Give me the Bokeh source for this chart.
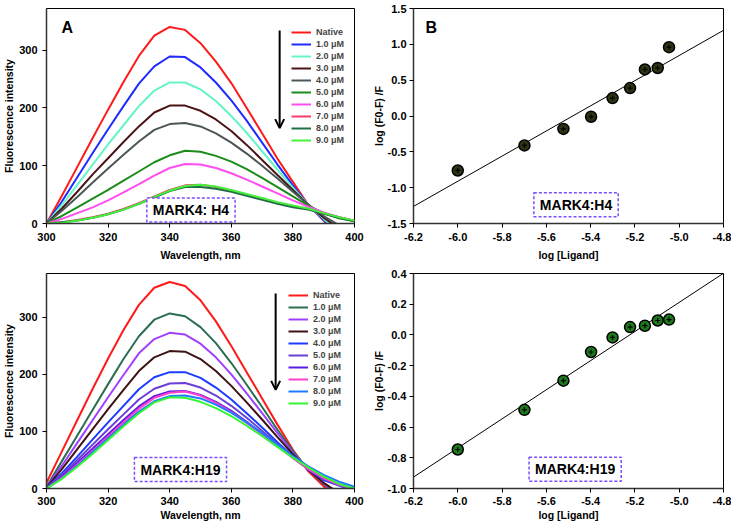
import numpy as np
from bokeh.plotting import figure
from bokeh.models import (Legend, LegendItem, Label, Arrow, OpenHead,
                          FixedTicker, PrintfTickFormatter, Range1d)
from bokeh.layouts import column, row
from bokeh.embed import file_html
from bokeh.resources import INLINE

# ---------------- data ----------------
wavelength = [300, 305, 310, 315, 320, 325, 330, 335, 340, 345, 350,
              355, 360, 365, 370, 375, 380, 385, 390, 395, 400]
series_labels = ["Native", "1.0 μM", "2.0 μM", "3.0 μM", "4.0 μM", "5.0 μM",
                 "6.0 μM", "7.0 μM", "8.0 μM", "9.0 μM"]

# MARK4:H4 emission spectra
h4_native = [0, 48, 98, 148, 197, 245, 290, 325, 340, 335, 312, 280, 243, 200, 156, 112, 72, 32, 5, -25, -50]
h4_c1 = [0, 38, 80, 122, 163, 203, 242, 272, 289, 288, 270, 244, 213, 178, 140, 102, 66, 32, 6, -20, -45]
h4_c2 = [0, 32, 67, 102, 137, 170, 203, 230, 244, 244, 232, 212, 186, 157, 125, 93, 62, 32, 8, -15, -40]
h4_c3 = [0, 26, 55, 85, 113, 141, 168, 192, 204, 204, 195, 180, 160, 136, 110, 84, 58, 32, 10, -8, -30]
h4_c4 = [0, 22, 46, 71, 95, 119, 142, 162, 172, 174, 168, 156, 140, 121, 100, 78, 55, 33, 13, -3, -20]
h4_c5 = [0, 13, 28, 43, 58, 74, 90, 106, 118, 126, 124, 117, 107, 94, 79, 63, 47, 31, 18, 9, 4]
h4_c6 = [0, 8, 18, 28, 40, 54, 68, 83, 96, 103, 102, 96, 87, 76, 64, 52, 40, 29, 19, 11, 5]
h4_c7 = [0, 2, 6, 11, 17, 25, 35, 47, 58, 66, 67, 63, 57, 50, 43, 36, 30, 25, 18, 11, 5]
h4_c8 = [0, 2, 5, 10, 16, 24, 34, 45, 56, 63, 63, 60, 55, 48, 41, 34, 28, 24, 17, 10, 4]
h4_c9 = [0, 1, 5, 10, 16, 24, 34, 46, 57, 65, 67, 64, 58, 51, 44, 37, 31, 26, 18, 11, 5]

# MARK4:H19 emission spectra
h19_native = [10, 65, 120, 175, 228, 278, 322, 352, 362, 355, 330, 293, 250, 204, 158, 112, 68, 30, 4, -25, -50]
h19_c1 = [3, 48, 93, 138, 183, 227, 267, 296, 307, 302, 283, 255, 220, 182, 143, 103, 66, 33, 8, -15, -40]
h19_c2 = [2, 40, 80, 120, 160, 199, 237, 262, 273, 270, 254, 230, 200, 167, 132, 97, 63, 33, 9, -12, -35]
h19_c3 = [2, 34, 69, 104, 139, 173, 206, 230, 241, 240, 227, 206, 180, 151, 121, 90, 60, 33, 10, -8, -30]
h19_c4 = [1, 27, 56, 86, 116, 145, 174, 195, 204, 204, 194, 177, 156, 132, 107, 81, 56, 33, 15, 5, -5]
h19_c5 = [1, 24, 50, 77, 104, 130, 156, 175, 184, 185, 177, 163, 145, 124, 101, 78, 55, 34, 17, 6, -3]
h19_c6 = [0, 21, 45, 70, 95, 120, 144, 162, 170, 171, 164, 152, 136, 117, 96, 75, 54, 35, 19, 8, 0]
h19_c7 = [0, 19, 42, 66, 91, 116, 140, 159, 168, 170, 163, 150, 134, 115, 95, 74, 53, 34, 18, 7, -1]
h19_c8 = [0, 18, 40, 64, 88, 112, 135, 153, 162, 163, 158, 147, 133, 116, 97, 77, 57, 39, 24, 12, 3]
h19_c9 = [0, 17, 38, 61, 85, 109, 132, 151, 160, 159, 152, 141, 127, 110, 92, 73, 54, 37, 21, 8, 0]

h4_colors = ["#ff1a1a", "#1f2bff", "#66f5c8", "#4a1416", "#4d5656", "#1a8c1a",
             "#ff4df0", "#ff3b6b", "#1f6e45", "#45f03c"]
h19_colors = ["#ff1a1a", "#2a6e50", "#a040ff", "#3f1214", "#1c3cff", "#6a3fd8",
              "#5a1ce0", "#ff3fcc", "#1c7cff", "#35f535"]

# double-log plots
log_ligand = [-6.0, -5.699, -5.523, -5.398, -5.301, -5.222, -5.155, -5.097, -5.046]
h4_logF = [-0.76, -0.41, -0.18, -0.01, 0.25, 0.39, 0.65, 0.67, 0.96]
h19_logF = [-0.746, -0.488, -0.298, -0.111, -0.016, 0.051, 0.06, 0.094, 0.10]

wl_ticks = [300, 320, 340, 360, 380, 400]
int_ticks = [0, 100, 200, 300]
lig_ticks = [-6.2, -6.0, -5.8, -5.6, -5.4, -5.2, -5.0, -4.8]
h4_log_ticks = [-1.5, -1.0, -0.5, 0.0, 0.5, 1.0, 1.5]
h19_log_ticks = [-1.0, -0.8, -0.6, -0.4, -0.2, 0.0, 0.2, 0.4]

FONT = "Liberation Sans"


def style(p, xlabel, ylabel, xticks, yticks, x_std, y_std, fmt=False):
    p.outline_line_color = "black"
    p.outline_line_width = 1
    p.xgrid.visible = False
    p.ygrid.visible = False
    p.background_fill_color = "white"
    p.border_fill_color = "white"
    p.xaxis.axis_label = xlabel
    p.yaxis.axis_label = ylabel
    p.xaxis.ticker = FixedTicker(ticks=xticks)
    p.yaxis.ticker = FixedTicker(ticks=yticks)
    if fmt:
        p.xaxis.formatter = PrintfTickFormatter(format="%.1f")
        p.yaxis.formatter = PrintfTickFormatter(format="%.1f")
    for ax, (ls, als) in ((p.xaxis[0], x_std), (p.yaxis[0], y_std)):
        ax.axis_line_color = "#333333"
        ax.axis_line_width = 1.5
        ax.major_tick_line_color = "black"
        ax.major_tick_out = 4
        ax.major_tick_in = 0
        ax.minor_tick_out = 0
        ax.minor_tick_in = 0
        ax.major_label_text_font = FONT
        ax.major_label_text_font_style = "bold"
        ax.major_label_text_font_size = "11px"
        ax.major_label_text_color = "black"
        ax.major_label_standoff = ls
        ax.axis_label_text_font = FONT
        ax.axis_label_text_font_style = "bold"
        ax.axis_label_text_font_size = "10.5px"
        ax.axis_label_text_color = "black"
        ax.axis_label_standoff = als


def tag(p, x, y, text):
    p.add_layout(Label(x=x, y=y, text=text, text_align="center",
                       text_baseline="middle", text_font=FONT,
                       text_font_style="bold", text_font_size="14px",
                       text_color="black",
                       border_line_color="#7a4dff", border_line_dash="3 2",
                       border_line_width=1.5,
                       background_fill_color="white", padding=(6, 4)))


def spectra(series, colors, ymax, width, height, borders, x_std, tagpos,
            tagtext, arrow_pos, legend_loc):
    p = figure(width=width, height=height, output_backend="svg",
               toolbar_location=None, x_range=Range1d(300, 400),
               y_range=Range1d(0, ymax),
               min_border_left=borders[0], min_border_right=borders[1],
               min_border_top=borders[2], min_border_bottom=borders[3])
    items = []
    for ys, col, lab in zip(series, colors, series_labels):
        r = p.line(wavelength, ys, line_color=col, line_width=2)
        items.append(LegendItem(label=lab, renderers=[r]))
    style(p, "Wavelength, nm", "Fluorescence intensity", wl_ticks, int_ticks,
          x_std, (5, 1))
    leg = Legend(items=items, location=legend_loc, border_line_color=None,
                 background_fill_alpha=0, padding=0, margin=0, spacing=2,
                 label_height=10, glyph_height=10, glyph_width=20,
                 label_standoff=5, label_text_font=FONT,
                 label_text_font_style="bold", label_text_font_size="9px")
    p.add_layout(leg)
    ax, ys0, ys1 = arrow_pos
    p.add_layout(Arrow(end=OpenHead(size=9, line_width=2, line_color="black"),
                       x_start=ax, y_start=ys0, x_end=ax, y_end=ys1,
                       line_width=2, line_color="black"))
    tag(p, tagpos[0], tagpos[1], tagtext)
    return p


def loglog(ys, fill, ylo, yhi, yticks, width, height, borders, x_std,
           tagpos, tagtext):
    p = figure(width=width, height=height, output_backend="svg",
               toolbar_location=None, x_range=Range1d(-6.2, -4.8),
               y_range=Range1d(ylo, yhi),
               min_border_left=borders[0], min_border_right=borders[1],
               min_border_top=borders[2], min_border_bottom=borders[3])
    slope, icpt = np.polyfit(log_ligand, ys, 1)
    xs_fit = [-6.2, -4.8]
    p.line(xs_fit, [slope * x + icpt for x in xs_fit], line_color="black",
           line_width=1)
    p.scatter(log_ligand, ys, size=11, fill_color=fill, line_color="black",
              line_width=1.5)
    p.scatter(log_ligand, ys, marker="cross", size=5, line_color="black",
              line_width=1.2)
    style(p, "log [Ligand]", "log (F0-F) /F", lig_ticks, yticks, x_std,
          (3, 0), fmt=True)
    tag(p, tagpos[0], tagpos[1], tagtext)
    return p


pA1 = spectra([h4_native, h4_c1, h4_c2, h4_c3, h4_c4, h4_c5, h4_c6, h4_c7, h4_c8, h4_c9],
              h4_colors, 372, 368, 263, (45, 14, 8, 39), (5, 5), (346.9, 23.2),
              "MARK4: H4", (375.7, 334, 165), (245, 78))
pA1.add_layout(Label(x=304.9, y=353, text="A", text_font=FONT, text_font_style="bold",
                     text_font_size="16px", text_baseline="top", text_color="black"))

pB1 = loglog(h4_logF, "#2b3514", -1.5, 1.5, h4_log_ticks, 363, 263, (45, 8, 8, 39),
             (5, 5), (-5.466, -1.237), "MARK4:H4")
pB1.add_layout(Label(x=-6.146, y=1.347, text="B", text_font=FONT, text_font_style="bold",
                     text_font_size="16px", text_baseline="top", text_color="black"))

pA2 = spectra([h19_native, h19_c1, h19_c2, h19_c3, h19_c4, h19_c5, h19_c6, h19_c7, h19_c8, h19_c9],
              h19_colors, 377, 368, 260, (45, 14, 10, 34), (4, 1), (343.5, 33.2),
              "MARK4:H19", (374.4, 342, 173), (242, 80))

pB2 = loglog(h19_logF, "#1c7a1c", -1.0, 0.4, h19_log_ticks, 363, 260, (45, 8, 10, 34),
             (4, 1), (-5.47, -0.874), "MARK4:H19")

layout = column(row(pA1, pB1), row(pA2, pB2))

with open("out.html", "w") as f:
    f.write(file_html(layout, INLINE))
